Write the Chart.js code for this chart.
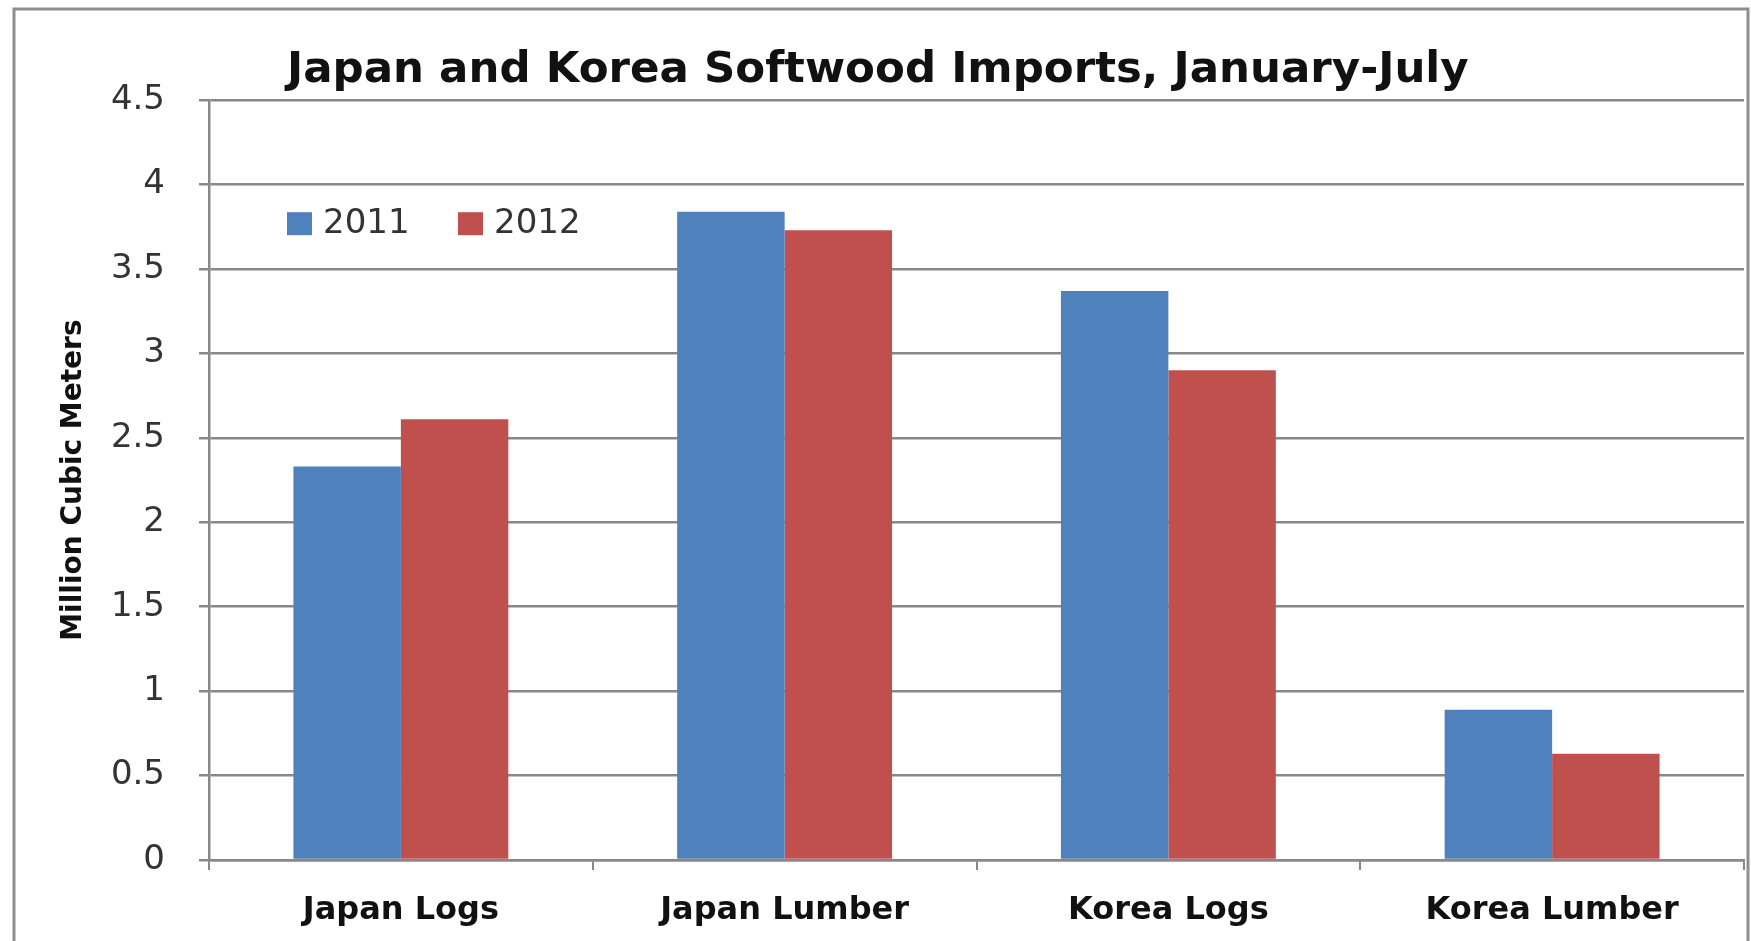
<!DOCTYPE html>
<html>
<head>
<meta charset="utf-8">
<script src="https://cdn.jsdelivr.net/npm/chart.js@4"></script>
<style>
  html, body { margin: 0; padding: 0; background: #fff; }
  #wrap { width: 1751px; height: 941px; }
</style>
</head>
<body>
<div id="wrap"><canvas id="myChart"></canvas></div>
<script>
// data (million cubic meters)
const categories = ['Japan Logs', 'Japan Lumber', 'Korea Logs', 'Korea Lumber'];
const imports2011 = [2.33, 3.84, 3.37, 0.89];
const imports2012 = [2.61, 3.73, 2.90, 0.63];
const seriesLabels = ['2011', '2012'];

const gridColor = '#888';

// outer frame round the whole chart
const framePlugin = {
  id: 'frame',
  beforeDraw(chart) {
    const ctx = chart.ctx;
    ctx.save();
    ctx.fillStyle = '#fff';
    ctx.fillRect(0, 0, chart.width, chart.height);
    ctx.strokeStyle = '#8f8f8f';
    ctx.lineWidth = 3;
    ctx.strokeRect(14, 9, chart.width - 17, chart.height + 20);
    ctx.restore();
  }
};

// legend sits inside the plot, top left
const innerLegend = {
  id: 'innerLegend',
  afterDatasetsDraw(chart) {
    const ctx = chart.ctx;
    const area = chart.chartArea;
    let x = area.left + 78;
    const y = area.top + 123;
    ctx.save();
    ctx.font = '34px "DejaVu Sans"';
    ctx.textBaseline = 'middle';
    chart.data.datasets.forEach(ds => {
      ctx.fillStyle = ds.backgroundColor;
      ctx.fillRect(x, y - 11, 25, 23);
      ctx.fillStyle = '#333';
      ctx.fillText(ds.label, x + 36, y + 1);
      x += 171;
    });
    ctx.restore();
  }
};

const data = {
  labels: categories,
  datasets: [
    { label: seriesLabels[0], data: imports2011, backgroundColor: '#4f81bd' },
    { label: seriesLabels[1], data: imports2012, backgroundColor: '#c0504d' }
  ]
};

const config = {
  type: 'bar',
  data: data,
  plugins: [framePlugin, innerLegend],
  options: {
    responsive: true,
    maintainAspectRatio: false,
    animation: false,
    layout: { padding: { left: 57, right: 7, top: 0, bottom: 0 } },
    datasets: { bar: { categoryPercentage: 0.56, barPercentage: 1.0 } },
    plugins: {
      legend: { display: false },
      tooltip: { enabled: false },
      title: {
        display: true,
        // trailing spaces nudge the centred title a little to the left, as in the original
        text: 'Japan and Korea Softwood Imports, January-July   ',
        color: '#111',
        font: { family: 'DejaVu Sans', size: 43.5, weight: 'bold' },
        padding: { top: 45, bottom: 3 }
      }
    },
    scales: {
      x: {
        grid: { display: true, drawOnChartArea: false, drawTicks: true, tickLength: 10, color: gridColor, lineWidth: 2, offset: true },
        border: { color: gridColor, width: 2.5 },
        ticks: { color: '#111', padding: 21, font: { family: 'DejaVu Sans', size: 32, weight: 'bold' } },
        afterFit(scale) { scale.height = 81; }
      },
      y: {
        min: 0,
        max: 4.5,
        ticks: {
          stepSize: 0.5,
          color: '#333',
          padding: 34,
          font: { family: 'DejaVu Sans', size: 34 },
          callback: v => String(v)
        },
        grid: { color: gridColor, lineWidth: 2.5, tickLength: 10 },
        border: { color: gridColor, width: 2.5 },
        title: {
          display: true,
          text: 'Million Cubic Meters',
          color: '#111',
          padding: 0,
          font: { family: 'DejaVu Sans', size: 28, weight: 'bold' }
        },
        afterFit(scale) { scale.width = 152; }
      }
    }
  }
};

new Chart(document.getElementById('myChart').getContext('2d'), config);
</script>
</body>
</html>
